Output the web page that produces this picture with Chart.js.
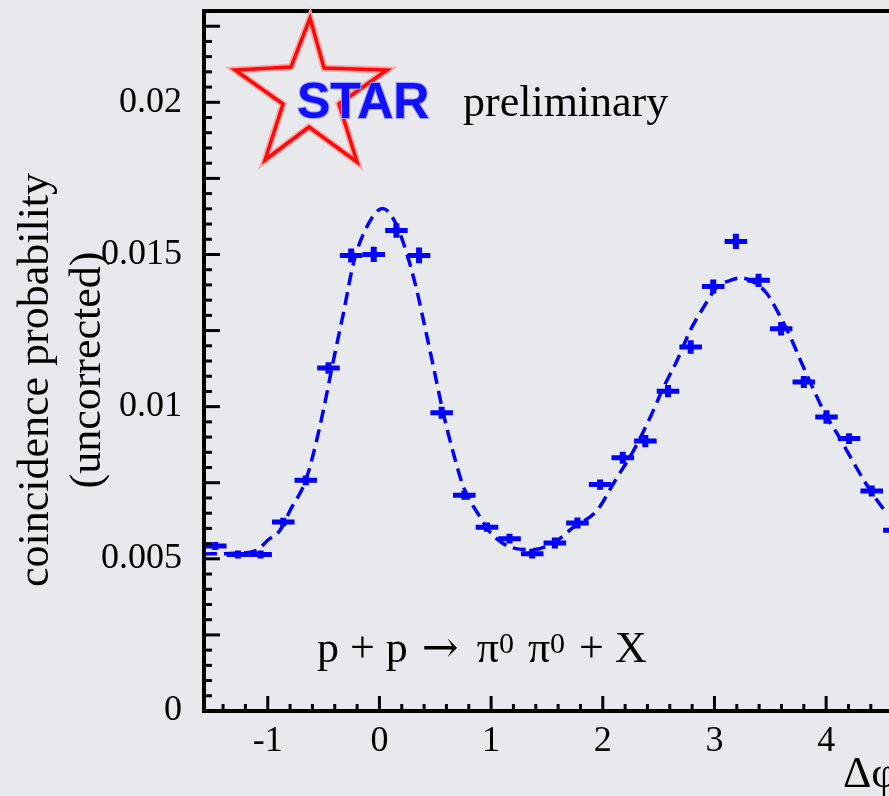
<!DOCTYPE html>
<html>
<head>
<meta charset="utf-8">
<script src="https://cdn.jsdelivr.net/npm/chart.js@4.4.0/dist/chart.umd.min.js"></script>
<style>
  html, body { margin: 0; padding: 0; background: #e8e9ed; overflow: hidden; }
  #wrap { position: absolute; left: 0; top: 0; width: 940px; height: 796px; }
</style>
</head>
<body>
<div id="wrap"><canvas id="chart" width="940" height="796"></canvas></div>
<script>
// delta phi bin centres (rad)
const dphi = [-1.470, -1.267, -1.064, -0.861, -0.659, -0.456, -0.253, -0.051, 0.152, 0.355,
              0.557, 0.760, 0.963, 1.165, 1.368, 1.571, 1.773, 1.976, 2.179, 2.381,
              2.584, 2.787, 2.989, 3.192, 3.395, 3.597, 3.800, 4.003, 4.205, 4.408, 4.611];
const prob = [0.00542, 0.00514, 0.00514, 0.00621, 0.00758, 0.01127, 0.01497, 0.01500, 0.01579, 0.01497,
              0.00980, 0.00709, 0.00604, 0.00566, 0.00517, 0.00552, 0.00618, 0.00744, 0.00832, 0.00887,
              0.01051, 0.01196, 0.01395, 0.01543, 0.01415, 0.01256, 0.01081, 0.00966, 0.00895, 0.00723, 0.00594];
const probErr = [0.00013, 0.00013, 0.00013, 0.00014, 0.00016, 0.00019, 0.00023, 0.00025, 0.00024, 0.00026,
                 0.00020, 0.00015, 0.00015, 0.00016, 0.00016, 0.00018, 0.00018, 0.00017, 0.00020, 0.00020,
                 0.00020, 0.00022, 0.00023, 0.00025, 0.00022, 0.00022, 0.00020, 0.00022, 0.00018, 0.00018, 0.00016];
const halfBin = 0.101;

// dashed fit curve
const fitX = [-1.571, -1.30, -1.10, -1.00, -0.89, -0.80, -0.666, -0.591, -0.502, -0.412, -0.323, -0.233, -0.143,
              0.03, 0.141, 0.245, 0.335, 0.394, 0.484, 0.573, 0.663, 0.753, 0.902, 0.99, 1.17, 1.37, 1.57,
              1.738, 1.948, 2.112, 2.276, 2.426, 2.545, 2.665, 2.784, 2.903, 3.023, 3.143, 3.232, 3.351,
              3.471, 3.56, 3.68, 3.77, 3.89, 3.99, 4.099, 4.218, 4.338, 4.457, 4.547];
const fitY = [0.00516, 0.00518, 0.00528, 0.00561, 0.00594, 0.00659, 0.00752, 0.00846, 0.00988, 0.01152, 0.01306, 0.0147, 0.01568,
              0.01651, 0.01606, 0.01503, 0.01382, 0.01284, 0.0113, 0.00977, 0.00846, 0.00736, 0.00637, 0.00588, 0.00539, 0.0053, 0.00555,
              0.00604, 0.00659, 0.00758, 0.00856, 0.00966, 0.01064, 0.01152, 0.01251, 0.01327, 0.01393, 0.01415, 0.01423, 0.01409,
              0.01371, 0.01316, 0.01229, 0.01152, 0.01054, 0.00977, 0.00911, 0.00834, 0.00758, 0.00692, 0.00648];

const xTicks = [-1, 0, 1, 2, 3, 4];
const xTickLabels = ['-1', '0', '1', '2', '3', '4'];
const yTicks = [0, 0.005, 0.01, 0.015, 0.02];
const yTickLabels = ['0', '0.005', '0.01', '0.015', '0.02'];

const serif = '"Liberation Serif", "Times New Roman", serif';
const blue = '#0000ff';

// crosses: horizontal bar = bin width, vertical bar = stat. error
const errorBars = {
  id: 'errorBars',
  afterDatasetsDraw(chart) {
    const {ctx, chartArea: a, scales: {x, y}} = chart;
    const pts = chart.data.datasets[1].data;
    ctx.save();
    ctx.beginPath();
    ctx.rect(a.left, a.top, a.right - a.left, a.bottom - a.top);
    ctx.clip();
    ctx.strokeStyle = blue;
    ctx.lineCap = 'butt';
    pts.forEach((p, i) => {
      const px = x.getPixelForValue(p.x);
      const py = y.getPixelForValue(p.y);
      ctx.lineWidth = 5;
      ctx.beginPath();
      ctx.moveTo(x.getPixelForValue(p.x - halfBin), py);
      ctx.lineTo(x.getPixelForValue(p.x + halfBin), py);
      ctx.stroke();
      ctx.lineWidth = 6;
      ctx.beginPath();
      ctx.moveTo(px, y.getPixelForValue(p.y - probErr[i]));
      ctx.lineTo(px, y.getPixelForValue(p.y + probErr[i]));
      ctx.stroke();
    });
    ctx.restore();
  }
};

// ROOT-like frame with inward ticks, titles and labels
const decor = {
  id: 'decor',
  afterDraw(chart) {
    const {ctx, chartArea: a, scales: {x, y}} = chart;
    ctx.save();
    ctx.strokeStyle = '#000';
    ctx.lineWidth = 3;
    for (let k = 0; k <= 46; k++) {
      const py = y.getPixelForValue(k * 0.0005);
      const len = k % 5 === 0 ? 16 : 8;
      ctx.beginPath();
      ctx.moveTo(a.left, py);
      ctx.lineTo(a.left + len, py);
      ctx.stroke();
    }
    for (let k = -7; k <= 23; k++) {
      const px = x.getPixelForValue(k * 0.2);
      const len = k % 5 === 0 ? 15 : 7;
      ctx.beginPath();
      ctx.moveTo(px, a.bottom);
      ctx.lineTo(px, a.bottom - len);
      ctx.stroke();
    }
    ctx.lineWidth = 4;
    ctx.beginPath();
    ctx.moveTo(a.right + 20, a.top);
    ctx.lineTo(a.left, a.top);
    ctx.lineTo(a.left, a.bottom);
    ctx.lineTo(a.right + 20, a.bottom);
    ctx.stroke();

    // axis titles
    ctx.fillStyle = '#000';
    ctx.font = '44px ' + serif;
    ctx.textAlign = 'center';
    ctx.textBaseline = 'alphabetic';
    ctx.save();
    ctx.translate(48, 380);
    ctx.rotate(-Math.PI / 2);
    ctx.fillText('coincidence probability', 0, 0);
    ctx.restore();
    ctx.save();
    ctx.translate(100, 370);
    ctx.rotate(-Math.PI / 2);
    ctx.fillText('(uncorrected)', 0, 0);
    ctx.restore();
    ctx.textAlign = 'left';
    ctx.fillText('Δφ', 843, 787);

    // reaction label: [text, font, baseline, extra gap after]
    const parts = [['p + p ', '44px ' + serif, 662, 3], ['→', '44px "DejaVu Serif", serif', 662, 7],
                   [' π', '44px ' + serif, 662, 0], ['0', '30px ' + serif, 653, 3],
                   [' π', '44px ' + serif, 662, 0], ['0', '30px ' + serif, 653, 3], [' + X', '44px ' + serif, 662, 0]];
    let tx = 317;
    parts.forEach(([t, f, by, gap]) => {
      ctx.font = f;
      ctx.fillText(t, tx, by);
      tx += ctx.measureText(t).width + gap;
    });

    // STAR logo
    const star = [[310, 18], [324, 68], [387, 70], [339, 104], [357, 162], [309, 127],
                  [265, 160], [283, 104], [235, 70], [291, 67]];
    ctx.beginPath();
    star.forEach(([sx, sy], i) => (i ? ctx.lineTo(sx, sy) : ctx.moveTo(sx, sy)));
    ctx.closePath();
    ctx.lineJoin = 'miter';
    ctx.strokeStyle = '#ffa8a8';
    ctx.lineWidth = 7;
    ctx.stroke();
    ctx.strokeStyle = '#ff0808';
    ctx.lineWidth = 3.5;
    ctx.stroke();
    ctx.font = 'bold 50px "Liberation Sans", Arial, sans-serif';
    ctx.lineWidth = 2;
    ctx.strokeStyle = '#a0a0ff';
    ctx.strokeText('STAR', 297, 118);
    ctx.fillStyle = '#1010ff';
    ctx.fillText('STAR', 297, 118);
    ctx.fillStyle = '#000';
    ctx.font = '44px ' + serif;
    ctx.fillText('preliminary', 463, 116);
    ctx.restore();
  }
};

new Chart(document.getElementById('chart'), {
  data: {
    datasets: [
      {
        type: 'line',
        data: fitX.map((v, i) => ({x: v, y: fitY[i]})),
        borderColor: blue,
        borderWidth: 3.5,
        borderDash: [13, 7],
        pointRadius: 0,
        cubicInterpolationMode: 'monotone',
        fill: false
      },
      {
        type: 'scatter',
        data: dphi.map((v, i) => ({x: v, y: prob[i]})),
        pointRadius: 0
      }
    ]
  },
  options: {
    responsive: false,
    animation: false,
    devicePixelRatio: 1,
    layout: {padding: {top: 11, right: 34.3, bottom: 0, left: 0}},
    plugins: {legend: {display: false}, tooltip: {enabled: false}},
    scales: {
      x: {
        type: 'linear',
        min: -Math.PI / 2,
        max: 3 * Math.PI / 2,
        grid: {display: false},
        border: {display: false},
        afterBuildTicks: s => { s.ticks = xTicks.map(v => ({value: v})); },
        afterFit: s => { s.height = 85; s.paddingLeft = 0; s.paddingRight = 0; },
        ticks: {
          autoSkip: false, maxRotation: 0, padding: 1, color: '#000',
          font: {family: serif, size: 36},
          callback: (v, i) => xTickLabels[i]
        }
      },
      y: {
        type: 'linear',
        min: 0,
        max: 0.023,
        grid: {display: false},
        border: {display: false},
        afterBuildTicks: s => { s.ticks = yTicks.map(v => ({value: v})); },
        afterFit: s => { s.width = 204; s.paddingTop = 0; s.paddingBottom = 0; },
        ticks: {
          padding: 14, color: '#000',
          font: {family: serif, size: 36},
          callback: (v, i) => yTickLabels[i]
        }
      }
    }
  },
  plugins: [errorBars, decor]
});
</script>
</body>
</html>
